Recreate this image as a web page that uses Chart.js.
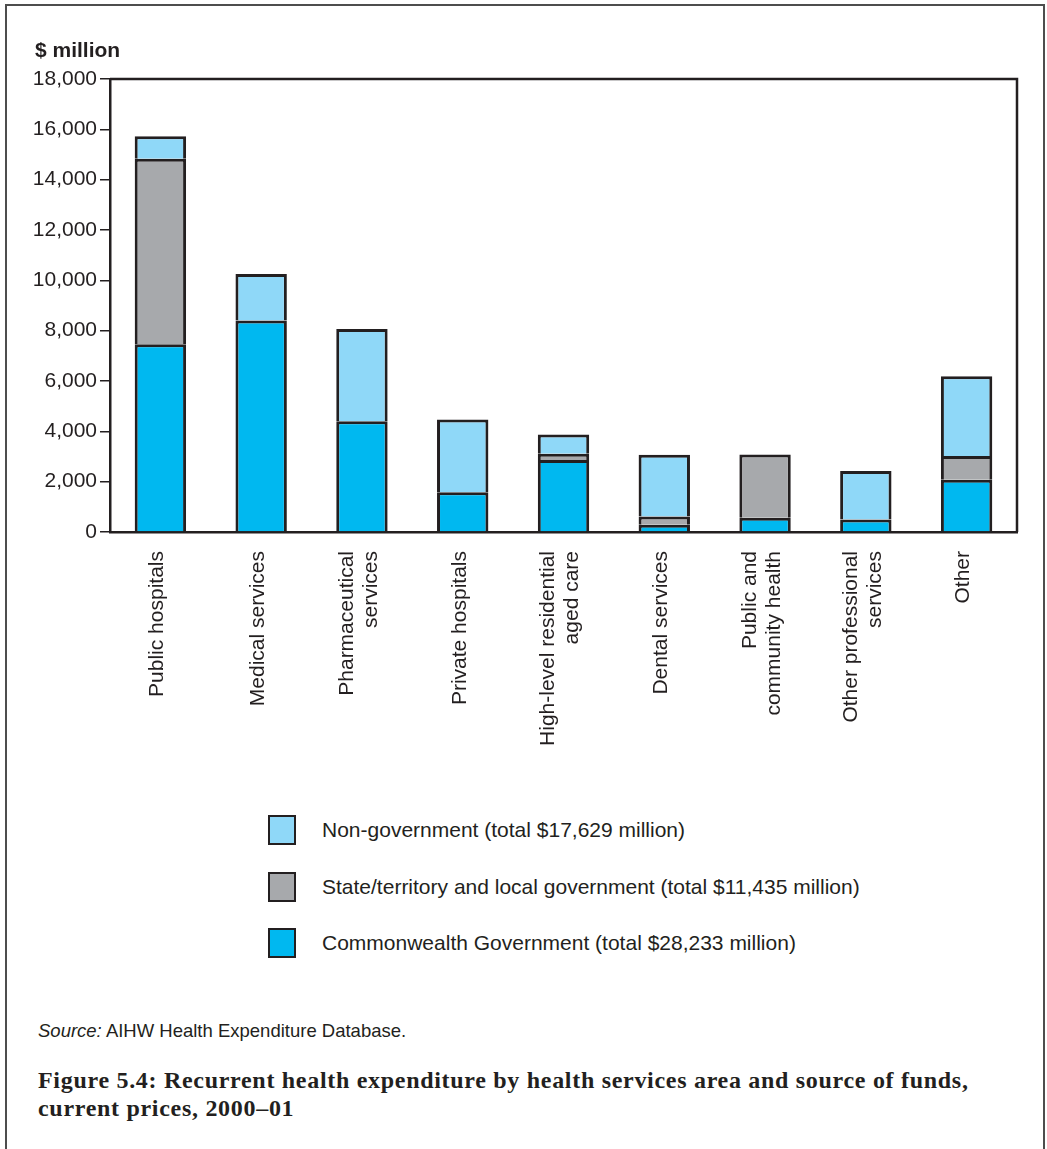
<!DOCTYPE html>
<html>
<head>
<meta charset="utf-8">
<title>Recurrent health expenditure</title>
<script src="https://cdn.jsdelivr.net/npm/chart.js@4"></script>
<style>
  body { margin: 0; background: #fff; font-family: 'Liberation Sans', Arial, sans-serif; color: #231f20; }
  #page { position: relative; width: 1047px; height: 1149px; overflow: hidden; }
  #frame { position: absolute; left: 5px; top: 4px; width: 1036px; height: 1200px;
           border: 2px solid #4d4d4d; border-bottom: none; }
  #chart { position: absolute; left: 0; top: 0; }
  #unit { position: absolute; left: 35px; top: 38px; font-weight: bold; font-size: 21px; line-height: 24px; }
  .row { position: absolute; left: 268px; height: 30px; display: flex; align-items: center; }
  .box { width: 24px; height: 26px; border: 2.5px solid #231f20; }
  .row span { margin-left: 26px; font-size: 21px; white-space: nowrap; }
  #source { position: absolute; left: 38px; top: 1020px; font-size: 18.5px; line-height: 22px; }
  #caption { position: absolute; left: 38px; top: 1066px; font-family: 'Liberation Serif', 'Times New Roman', serif;
             font-weight: bold; font-size: 24px; letter-spacing: 0.7px; line-height: 28px; white-space: nowrap; }
</style>
</head>
<body>
<div id="page">
  <div id="frame"></div>
  <canvas id="chart" width="1047" height="780"></canvas>
  <div id="unit">$ million</div>
  <div id="legend"></div>
  <div id="source"><i>Source:</i> AIHW Health Expenditure Database.</div>
  <div id="caption">Figure 5.4: Recurrent health expenditure by health services area and source of funds,<br>current prices, 2000–01</div>
</div>
<script>
const categories = [
    'Public hospitals',
    'Medical services',
    ['Pharmaceutical', 'services'],
    'Private hospitals',
    ['High-level residential', 'aged care'],
    'Dental services',
    ['Public and', 'community health'],
    ['Other professional', 'services'],
    'Other'
];
const commonwealth = [7460, 8400, 4400, 1580, 2860, 290, 570, 500, 2080];
const stateLocal = [7370, null, null, null, 250, 330, 2510, null, 940];
const nonGovernment = [900, 1850, 3670, 2890, 760, 2450, null, 1920, 3170];
const yTicks = [0, 2000, 4000, 6000, 8000, 10000, 12000, 14000, 16000, 18000];

const seriesNames = [
    'Commonwealth Government (total $28,233 million)',
    'State/territory and local government (total $11,435 million)',
    'Non-government (total $17,629 million)'
];
const seriesColors = ['#00b8f0', '#a7a9ac', '#8fd8f8'];
const ink = '#231f20';

Chart.defaults.font.family = "'Liberation Sans', Arial, sans-serif";
Chart.defaults.color = ink;

// box round the plot area
const plotBox = {
    id: 'plotBox',
    afterDraw(chart) {
        const a = chart.chartArea;
        const ctx = chart.ctx;
        ctx.save();
        ctx.strokeStyle = ink;
        ctx.lineWidth = 2.5;
        ctx.beginPath();
        ctx.moveTo(a.left, a.top);
        ctx.lineTo(a.right, a.top);
        ctx.lineTo(a.right, a.bottom);
        ctx.stroke();
        ctx.restore();
    }
};

// center the rotated multi-line labels on their tick
const centerLabels = {
    id: 'centerLabels',
    beforeDraw(chart) {
        const s = chart.scales.x;
        s.getLabelItems(chart.chartArea).forEach((item) => {
            if (item._moved) return;
            item._moved = true;
            const n = Array.isArray(item.label) ? item.label.length : 1;
            item.options.translation[0] -= (n - 1) * 12 + 3;
        });
    }
};

const ctx = document.getElementById('chart');

new Chart(ctx, {
    type: 'bar',
    data: {
        labels: categories,
        datasets: [commonwealth, stateLocal, nonGovernment].map((d, i) => ({
            label: seriesNames[i],
            data: d,
            backgroundColor: seriesColors[i],
            borderColor: ink,
            borderWidth: 3,
            barPercentage: 0.51,
            categoryPercentage: 1
        }))
    },
    options: {
        responsive: false,
        animation: false,
        layout: { padding: { top: 79, right: 30, left: 0, bottom: 0 } },
        plugins: {
            legend: { display: false },
            tooltip: { enabled: false }
        },
        scales: {
            x: {
                stacked: true,
                afterFit: (scale) => { scale.height = 248; },
                grid: { display: true, drawOnChartArea: false, drawTicks: false },
                border: { display: true, color: ink, width: 2.5 },
                ticks: {
                    autoSkip: false,
                    minRotation: 90,
                    maxRotation: 90,
                    padding: 19,
                    color: ink,
                    font: { size: 21, lineHeight: 1.15 }
                }
            },
            y: {
                stacked: true,
                min: 0,
                max: 18000,
                afterFit: (scale) => { scale.width = 110; },
                afterBuildTicks: (scale) => { scale.ticks = yTicks.map((v) => ({ value: v })); },
                grid: { drawOnChartArea: false, drawTicks: true, tickLength: 10, color: ink, lineWidth: 1.5 },
                border: { display: true, color: ink, width: 2.5 },
                ticks: {
                    padding: 3,
                    color: ink,
                    font: { size: 21 },
                    callback: function (value) {
                        return value.toLocaleString('en-US');
                    }
                }
            }
        }
    },
    plugins: [plotBox, centerLabels]
});

// legend, top item first like the stacks
const legend = document.getElementById('legend');
[2, 1, 0].forEach((k, row) => {
    const div = document.createElement('div');
    div.className = 'row';
    div.style.top = (815 + row * 56.5) + 'px';
    const box = document.createElement('div');
    box.className = 'box';
    box.style.background = seriesColors[k];
    const txt = document.createElement('span');
    txt.textContent = seriesNames[k];
    div.appendChild(box);
    div.appendChild(txt);
    legend.appendChild(div);
});
</script>
</body>
</html>
